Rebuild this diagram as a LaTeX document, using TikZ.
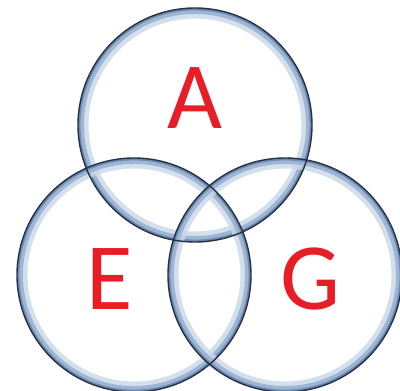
\documentclass[tikz,border=0pt]{standalone}
\usepackage{fontspec}
\setsansfont{Carlito}
\usepackage{tikz}
\usetikzlibrary{calc}
\usepackage{xcolor}
\definecolor{rimdark}{RGB}{38,48,68}
\definecolor{rimmid}{RGB}{108,138,178}
\definecolor{rimlight}{RGB}{150,176,208}
\definecolor{rimpale}{RGB}{200,215,232}
\definecolor{labelred}{RGB}{232,30,38}

\begin{document}
\begin{tikzpicture}[
    x=1pt, y=-1pt,
    bandpale/.style={draw=rimpale, line width=10pt, opacity=0.8},
    bandlight/.style={draw=rimlight, line width=5.5pt, opacity=0.85},
    bandmid/.style={draw=rimmid, line width=2.4pt},
    rim/.style={draw=rimdark, line width=1.4pt},
    setlabel/.style={text=labelred, font=\fontsize{95}{95}\selectfont\sffamily,
                     inner sep=0pt},
]
\useasboundingbox (0,0) rectangle (400,391);

% Centres of the three sets
\coordinate (cA) at (195,125);
\coordinate (cE) at (134,275);
\coordinate (cG) at (285,275);

% Glassy bands inside each rim
\foreach \c in {cA,cE,cG} {
  \draw[bandpale]  (\c) circle (111.5pt);
  \draw[bandlight] (\c) circle (113.8pt);
  \draw[bandmid]   (\c) circle (115.8pt);
}

% Dark outlines on top
\foreach \c in {cA,cE,cG} {
  \draw[rim] (\c) circle (117pt);
}

% Set labels
\node[setlabel] (labA) at (195,98)  {A};
\node[setlabel] (labE) at (110,279) {E};
\node[setlabel] (labG) at (310,279) {G};

\end{tikzpicture}
\end{document}
